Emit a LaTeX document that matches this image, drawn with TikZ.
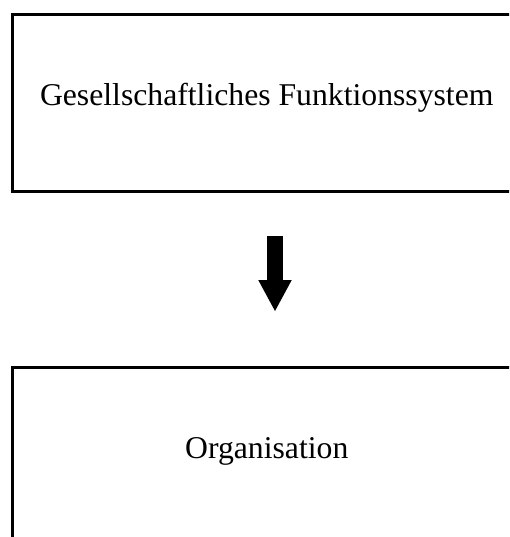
\documentclass[tikz,border=0pt]{standalone}
\usepackage{fontspec}
\setmainfont{Liberation Serif}
\usetikzlibrary{arrows.meta}
\begin{document}
\begin{tikzpicture}[x=1pt,y=-1pt,
  levelbox/.style={draw=black, line width=3pt, rectangle,
    minimum width=509pt, minimum height=177.5pt, inner sep=0pt,
    text height=21.6pt, text depth=17pt,
    font=\fontsize{31.7}{38}\selectfont},
  bigarrow/.style={line width=16.7pt,
    -{Triangle[length=31.7pt,width=31pt]}}]
  \useasboundingbox (0,0) rectangle (509,537);
  \clip (0,0) rectangle (509,537);
  \fill[white] (0,0) rectangle (509,537);
  % the two levels, both running off to the right
  \node[levelbox] (system) at (266.75,103.25) {Gesellschaftliches Funktionssystem};
  \node[levelbox] (org) at (266.75,455.75) {Organisation};
  % thick downward arrow between them
  \coordinate (arrowstart) at (275,235.7);
  \coordinate (arrowend) at (275,311.7);
  \draw[bigarrow] (arrowstart) -- (arrowend);
\end{tikzpicture}
\end{document}
